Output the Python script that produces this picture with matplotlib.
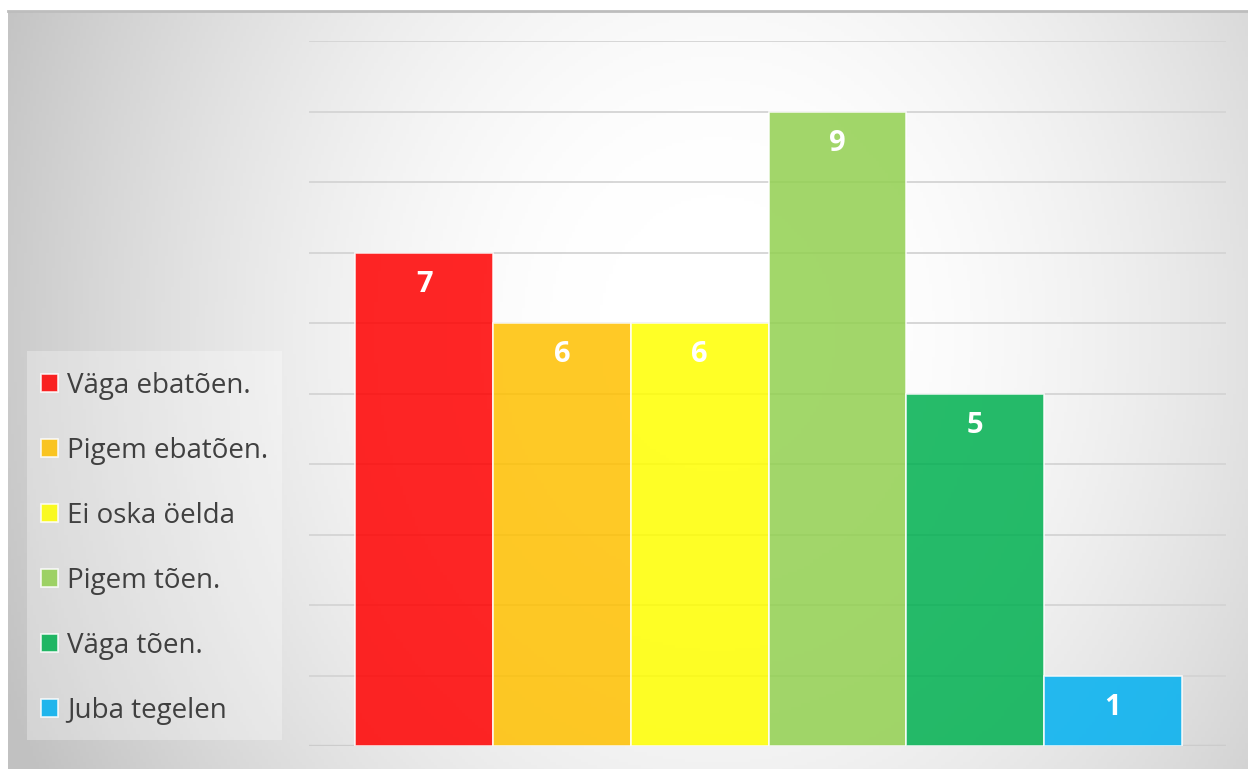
import numpy as np
import matplotlib
matplotlib.use("Agg")
import matplotlib.pyplot as plt
from matplotlib.lines import Line2D
from matplotlib.patches import Rectangle

# === Data ===
categories = ["Väga ebatõen.", "Pigem ebatõen.", "Ei oska öelda",
              "Pigem tõen.", "Väga tõen.", "Juba tegelen"]
values = [7, 6, 6, 9, 5, 1]
colors = ["#FF0000", "#FFC000", "#FFFF00", "#92D050", "#00B050", "#00B0F0"]

plt.rcParams["font.family"] = ["Open Sans", "DejaVu Sans"]

W, H = 1248, 769
fig = plt.figure(figsize=(W / 100, H / 100), dpi=100)
fig.patch.set_facecolor("white")

# === Background panel with radial gradient ===
bg = fig.add_axes([8 / W, -0.01, 1 - 8 / W + 0.01, 1 - 11 / H + 0.01], zorder=0)
gx, gy = np.meshgrid(np.linspace(8, W, 400), np.linspace(11, H, 250))
d = np.hypot((gx - 710) / 650, (gy - 330) / 760)
t = np.clip((d - 0.18) / 1.0, 0, 1.2) ** 1.6
shade = np.clip(1.0 - 0.24 * t, 0.76, 1)
img = np.dstack([shade, shade, shade])
bg.imshow(img, extent=[0, 1, 0, 1], aspect="auto", origin="upper")
bg.set_xlim(0, 1)
bg.set_ylim(0, 1)
bg.axis("off")
fig.add_artist(Line2D([8 / W, 1], [1 - 11 / H, 1 - 11 / H], color="#BDBDBD",
                      lw=2, transform=fig.transFigure))

# legend backdrop
fig.add_artist(Rectangle((27 / W, 1 - 740 / H), (282 - 27) / W, (740 - 351) / H,
                         transform=fig.transFigure, facecolor=(1, 1, 1, 0.3),
                         edgecolor="none", zorder=0.5))

# === Plot area ===
ax = fig.add_axes([309 / W, 1 - 746 / H, (1226 - 309) / W, (746 - 41) / H], zorder=1)
ax.patch.set_alpha(0)
x = np.arange(len(categories))
bars = ax.bar(x, values, width=1.0, color=colors, alpha=0.85,
              edgecolor=(1, 1, 1, 0.6), linewidth=1.2)
ax.set_xlim(-0.5 - 0.335, len(categories) - 0.5 + 0.32)
ax.set_ylim(0, 10)
ax.set_yticks(range(0, 11))
ax.set_xticks([])
ax.tick_params(left=False, labelleft=False)
ax.grid(axis="y", color="#D4D4D4", lw=1.3)
ax.set_axisbelow(True)
for s in ax.spines.values():
    s.set_visible(False)
ax.axhline(0, color="#8C8C8C", lw=1.5, zorder=0.5)

for xi, v in zip(x, values):
    ax.annotate(str(v), (xi, v), xytext=(0, -23), textcoords="offset points",
                ha="center", va="center", color="white", fontsize=21,
                fontweight="bold")

# === Legend ===
leg = ax.legend(bars.patches, categories, loc="upper left",
                bbox_to_anchor=(27 / W, 1 - 358 / H), bbox_transform=fig.transFigure,
                fontsize=20, frameon=False, borderaxespad=0,
                handlelength=0.62, handleheight=0.62, handletextpad=0.32,
                labelspacing=1.33, borderpad=0.5)
for txt in leg.get_texts():
    txt.set_color("#404040")

fig.savefig("out.png", dpi=100)
